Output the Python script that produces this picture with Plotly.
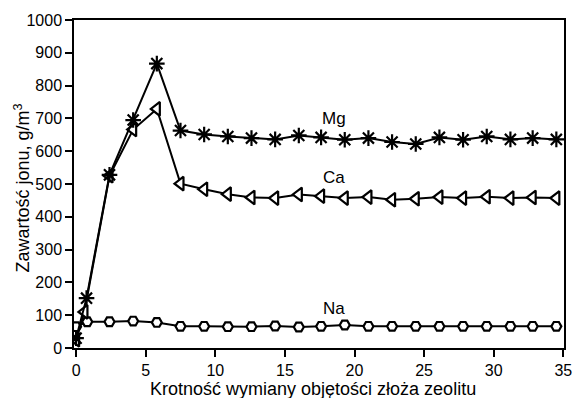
import plotly.graph_objects as go

# Data
x_mg = [0, 0.75, 2.4, 4.1, 5.8, 7.5, 9.2, 10.9, 12.6, 14.3, 16.0, 17.6, 19.3, 21.0, 22.7, 24.4, 26.1, 27.8, 29.5, 31.2, 32.8, 34.5]
mg = [30, 152, 528, 695, 867, 663, 651, 645, 640, 636, 648, 642, 635, 640, 628, 622, 642, 635, 645, 636, 640, 636]

x_ca = [0, 0.6, 2.4, 4.1, 5.8, 7.5, 9.2, 10.9, 12.6, 14.3, 16.0, 17.6, 19.3, 21.0, 22.7, 24.4, 26.1, 27.8, 29.5, 31.2, 32.8, 34.5]
ca = [25, 110, 525, 666, 729, 501, 484, 469, 459, 457, 468, 463, 457, 460, 452, 455, 460, 457, 461, 457, 459, 457]

x_na = [0, 0.8, 2.4, 4.1, 5.8, 7.5, 9.2, 10.9, 12.6, 14.3, 16.0, 17.6, 19.3, 21.0, 22.7, 24.4, 26.1, 27.8, 29.5, 31.2, 32.8, 34.5]
na = [65, 80, 80, 82, 78, 66, 66, 65, 65, 67, 64, 66, 70, 66, 66, 66, 66, 66, 66, 66, 66, 66]

labels = ["Mg", "Ca", "Na"]
label_x = [18.5, 18.5, 18.5]
label_y = [700, 520, 120]

x_ticks = [0, 5, 10, 15, 20, 25, 30, 35]
y_ticks = [0, 100, 200, 300, 400, 500, 600, 700, 800, 900, 1000]

x_title = "Krotność wymiany objętości złoża zeolitu"
y_title = "Zawartość jonu, g/m<sup>3</sup>"

FONT = "Liberation Sans, Arial, Helvetica, sans-serif"

fig = go.Figure()

fig.add_trace(go.Scatter(
    x=x_na, y=na, mode="lines+markers",
    line=dict(color="black", width=2),
    marker=dict(symbol="hexagon2", size=10, color="white",
                line=dict(color="black", width=2.2)),
    name="Na"))

fig.add_trace(go.Scatter(
    x=x_ca, y=ca, mode="lines+markers",
    line=dict(color="black", width=2),
    marker=dict(symbol="triangle-left", size=12, color="white",
                line=dict(color="black", width=2.2)),
    name="Ca"))

fig.add_trace(go.Scatter(
    x=x_mg, y=mg, mode="lines+markers",
    line=dict(color="black", width=2),
    marker=dict(symbol="asterisk-open", size=13, color="black",
                line=dict(color="black", width=2.2)),
    name="Mg"))

for t, xx, yy in zip(labels, label_x, label_y):
    fig.add_annotation(x=xx, y=yy, text=t, showarrow=False,
                       font=dict(family=FONT, size=17, color="black"))

# axis titles placed as paper annotations
fig.add_annotation(xref="paper", yref="paper", x=0.488, y=-0.124,
                   xanchor="center", yanchor="middle", showarrow=False,
                   text=x_title, font=dict(family=FONT, size=18, color="black"))
fig.add_annotation(xref="paper", yref="paper", x=-0.105, y=0.488,
                   xanchor="center", yanchor="middle", showarrow=False,
                   textangle=-90,
                   text=y_title, font=dict(family=FONT, size=18, color="black"))

fig.update_layout(
    width=584, height=398,
    margin=dict(l=74, r=12, t=18, b=50),
    paper_bgcolor="white", plot_bgcolor="white",
    showlegend=False,
    font=dict(family=FONT, size=16, color="black"),
)

fig.update_xaxes(
    range=[-0.15, 35.05], tickvals=x_ticks,
    showgrid=False, zeroline=False,
    showline=True, linecolor="black", linewidth=1.5, mirror=True,
    ticks="outside", ticklen=7, tickwidth=1.5, tickcolor="black",
    tickfont=dict(family=FONT, size=16),
)
fig.update_yaxes(
    range=[0, 1000], tickvals=y_ticks,
    showgrid=False, zeroline=False,
    showline=True, linecolor="black", linewidth=1.5, mirror=True,
    ticks="outside", ticklen=7, tickwidth=1.5, tickcolor="black",
    tickfont=dict(family=FONT, size=16),
)

fig.write_html("out.html")
